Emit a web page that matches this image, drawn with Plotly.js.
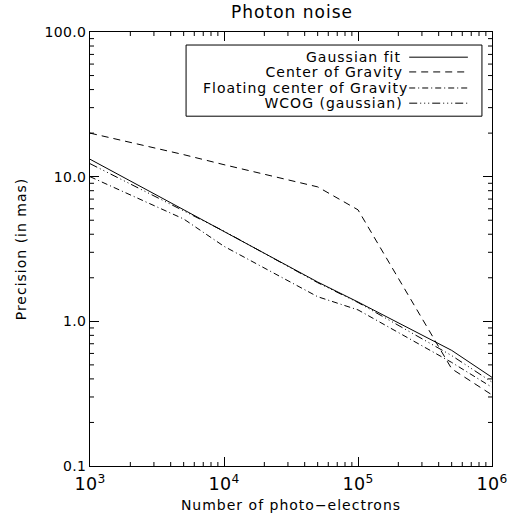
<!DOCTYPE html>
<html>
<head>
<meta charset="utf-8">
<script src="https://cdn.plot.ly/plotly-3.0.1.min.js"></script>
<style>
html,body{margin:0;padding:0;background:#fff;}
#chart text{letter-spacing:1px;}
#chart .xtick text, #chart .ytick text{letter-spacing:0.3px;}
</style>
</head>
<body>
<div id="chart" style="width:507px;height:516px;"></div>
<script>
// Number of photo-electrons
const photons = [1e3, 5e3, 1e4, 5e4, 1e5, 5e5, 1e6];
// Precision (in mas)
const gaussFit  = [13.2, 5.9, 4.2, 1.87, 1.36, 0.63, 0.41];
const cog       = [20.0, 14.2, 12.1, 8.5, 5.9, 0.47, 0.31];
const floatCog  = [10.0, 5.1, 3.3, 1.48, 1.2, 0.52, 0.35];
const wcog      = [12.3, 5.8, 4.2, 1.85, 1.35, 0.58, 0.38];

const seriesNames = ["Gaussian fit", "Center of Gravity", "Floating center of Gravity", "WCOG (gaussian)"];
const seriesData = [gaussFit, cog, floatCog, wcog];
const dashes = ["solid", "7px,5px", "6px,3px,1px,3px", "8px,3px,1px,3px,1px,3px,1px,3px"];

const font = "DejaVu Sans, sans-serif";

const traces = seriesData.map((ys, i) => ({
  x: photons, y: ys, type: "scatter", mode: "lines", name: seriesNames[i],
  line: {color: "black", width: 1, dash: dashes[i]}, showlegend: false
}));

function minorVals(lo, hi) {
  const v = [];
  for (let d = lo; d < hi; d++) for (let m = 2; m <= 9; m++) v.push(m * Math.pow(10, d));
  return v;
}

const shapes = [];
const tickLine = {color: "black", width: 1};
// minor ticks on all four sides (IDL style), placed through the axes
minorVals(3, 6).forEach(v => {
  shapes.push({type: "line", xref: "x", yref: "y domain", ysizemode: "pixel", yanchor: 0, x0: v, x1: v, y0: 0, y1: 4, line: tickLine, layer: "above"});
  shapes.push({type: "line", xref: "x", yref: "y domain", ysizemode: "pixel", yanchor: 1, x0: v, x1: v, y0: 0, y1: -4, line: tickLine, layer: "above"});
});
minorVals(-1, 2).forEach(v => {
  shapes.push({type: "line", yref: "y", xref: "x domain", xsizemode: "pixel", xanchor: 0, y0: v, y1: v, x0: 0, x1: 4, line: tickLine, layer: "above"});
  shapes.push({type: "line", yref: "y", xref: "x domain", xsizemode: "pixel", xanchor: 1, y0: v, y1: v, x0: 0, x1: -4, line: tickLine, layer: "above"});
});

// legend drawn in paper coordinates
const rowY = [0.942, 0.908, 0.871, 0.836];
shapes.push({type: "rect", xref: "paper", yref: "paper", x0: 0.239, x1: 0.975, y0: 0.806, y1: 0.970,
  line: {color: "black", width: 1}, fillcolor: "white", layer: "above"});
const annotations = [];
seriesNames.forEach((n, i) => {
  shapes.push({type: "line", xref: "paper", yref: "paper", x0: 0.794, x1: 0.940, y0: rowY[i], y1: rowY[i],
    line: {color: "black", width: 1, dash: dashes[i]}, layer: "above"});
  annotations.push({xref: "paper", yref: "paper", x: 0.764, y: rowY[i], xanchor: "right", yanchor: "middle",
    text: n, showarrow: false, font: {family: font, size: 14, color: "black"}});
});

const axisCommon = {
  type: "log", showgrid: false, zeroline: false, showline: true, linecolor: "black", linewidth: 1,
  mirror: "allticks", ticks: "inside", ticklen: 9, tickcolor: "black", tickwidth: 1, dtick: 1,
  tickfont: {family: font, size: 14, color: "black"}, ticklabeloverflow: "allow"
};

const layout = {
  width: 507, height: 516,
  margin: {l: 90, r: 15, t: 32, b: 50},
  paper_bgcolor: "white", plot_bgcolor: "white",
  title: {text: "Photon noise", font: {family: font, size: 17, color: "black"}, x: 0.576, xanchor: "center", y: 0.988, yanchor: "top"},
  xaxis: Object.assign({}, axisCommon, {
    range: [3, 6], exponentformat: "power", ticklabelstandoff: 3,
    title: {text: "Number of photo\u2212electrons", font: {family: font, size: 14, color: "black"}, standoff: 6}
  }),
  yaxis: Object.assign({}, axisCommon, {
    range: [-1, 2], tickformat: ".1f",
    title: {text: "Precision (in mas)", font: {family: font, size: 14, color: "black"}, standoff: 16}
  }),
  shapes: shapes,
  annotations: annotations,
  showlegend: false
};

Plotly.newPlot("chart", traces, layout, {displayModeBar: false, staticPlot: true});
</script>
</body>
</html>
